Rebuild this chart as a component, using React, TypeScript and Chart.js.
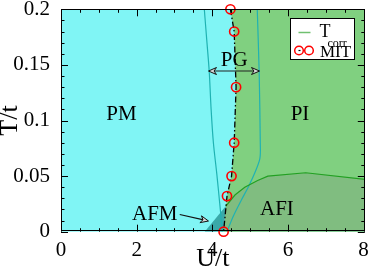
import React, { useEffect, useRef } from 'react';
import { Chart, registerables } from 'chart.js';

Chart.register(...registerables);

// ---- axes ----
const xTicks = [0, 2, 4, 6, 8];
const yTicks = [0, 0.05, 0.1, 0.15, 0.2];
const xMax = 8.034;
const yMax = 0.2;

// ---- data (U/t, T/t) ----
const mitU = [4.48, 4.58, 4.63, 4.58, 4.51, 4.39, 4.3];
const mitT = [0.2, 0.18, 0.13, 0.08, 0.05, 0.032, 0];
const tcorrU = [3.8, 4.36, 4.6, 4.86, 5.2, 5.47, 6.47, 8.05];
const tcorrT = [0, 0.023, 0.033, 0.04, 0.046, 0.05, 0.053, 0.047];
const pgLeftU = [3.79, 3.86, 3.92, 3.97, 4.03, 4.12, 4.19, 4.24, 4.26];
const pgLeftT = [0.2, 0.17, 0.144, 0.11, 0.08, 0.052, 0.028, 0.01, 0];
const pgRightU = [5.19, 5.24, 5.27, 5.26, 5.12, 4.95, 4.77, 4.55, 4.39];
const pgRightT = [0.2, 0.144, 0.08, 0.066, 0.0525, 0.04, 0.0285, 0.0135, 0];

// ---- annotations ----
const regionLabels = [
  { text: 'PM', u: 1.6, t: 0.1004 },
  { text: 'PI', u: 6.32, t: 0.1004 },
  { text: 'PG', u: 4.58, t: 0.1492 },
  { text: 'AFI', u: 5.71, t: 0.015 },
  { text: 'AFM', u: 2.48, t: 0.0105 },
];
const pgArrow = { u0: 3.9, u1: 5.25, t: 0.1445 };
const afmArrow = { u0: 3.14, t0: 0.0155, u1: 3.9, t1: 0.0096 };

const SERIF = '"Liberation Serif", "Times New Roman", serif';
const CYAN = '#80f5f5';
const GREEN = '#80d080';
const AFI_C = '#80bd80';
const AFM_C = '#3aa9a9';
const TEAL = '#1fb2b2';
const TCORR_C = '#22a022';

const pts = (us: number[], ts: number[]) => us.map((u, i) => ({ x: u, y: ts[i] }));

const n = mitU.length;
const edge = xMax + 0.2;
const piPoly = [...pts(mitU, mitT), { x: edge, y: 0 }, { x: edge, y: yMax + 0.01 }, { x: mitU[0], y: yMax + 0.01 }];
const afiPoly = [
  ...pts(tcorrU, tcorrT).slice(1),
  { x: edge, y: tcorrT[tcorrT.length - 1] },
  { x: edge, y: 0 },
  { x: mitU[n - 1], y: mitT[n - 1] },
];
const afmPoly = [
  { x: tcorrU[0], y: tcorrT[0] },
  { x: tcorrU[1], y: tcorrT[1] },
  { x: mitU[n - 1], y: mitT[n - 1] },
];

function poly(data: any[], color: string, order: number) {
  return {
    data,
    fill: 'shape',
    backgroundColor: color,
    borderColor: 'rgba(0,0,0,0)',
    borderWidth: 1,
    pointRadius: 0,
    tension: 0,
    order,
  };
}

function head(ctx: CanvasRenderingContext2D, x: number, y: number, ang: number, len: number, half: number) {
  const c = Math.cos(ang), s = Math.sin(ang);
  ctx.beginPath();
  ctx.moveTo(x, y);
  ctx.lineTo(x - len * c - half * s, y - len * s + half * c);
  ctx.lineTo(x - len * 0.7 * c, y - len * 0.7 * s);
  ctx.lineTo(x - len * c + half * s, y - len * s - half * c);
  ctx.closePath();
  ctx.fillStyle = '#d9d9d9';
  ctx.fill();
  ctx.lineWidth = 1;
  ctx.strokeStyle = '#111';
  ctx.stroke();
}

const decor = {
  id: 'decor',
  beforeDatasetsDraw(chart: any) {
    const { ctx, chartArea: a } = chart;
    ctx.save();
    ctx.fillStyle = CYAN;
    ctx.fillRect(a.left, a.top, a.right - a.left, a.bottom - a.top);
    ctx.restore();
  },
  afterDatasetsDraw(chart: any) {
    const { ctx, chartArea: a } = chart;
    const xs = chart.scales.x, ys = chart.scales.y;
    ctx.save();
    // frame
    ctx.strokeStyle = '#000';
    ctx.lineWidth = 1;
    ctx.strokeRect(Math.round(a.left) + 0.5, Math.round(a.top) + 0.5, Math.round(a.right - a.left) - 1, Math.round(a.bottom - a.top) - 1);
    // ticks
    ctx.beginPath();
    for (let k = 0; k <= 16; k++) {
      const v = k * 0.5;
      const px = Math.round(xs.getPixelForValue(v)) + 0.5;
      const L = k % 4 === 0 ? 7 : 3.5;
      ctx.moveTo(px, a.bottom);
      ctx.lineTo(px, a.bottom - L);
      ctx.moveTo(px, a.top);
      ctx.lineTo(px, a.top + L);
    }
    for (let k = 0; k <= 20; k++) {
      const v = k * 0.01;
      const py = Math.round(ys.getPixelForValue(v)) + 0.5;
      const L = k % 5 === 0 ? 7 : 3.5;
      ctx.moveTo(a.left, py);
      ctx.lineTo(a.left + L, py);
      ctx.moveTo(a.right, py);
      ctx.lineTo(a.right - L, py);
    }
    ctx.stroke();
    // labels
    ctx.fillStyle = '#000';
    ctx.font = `21px ${SERIF}`;
    ctx.textAlign = 'center';
    ctx.textBaseline = 'alphabetic';
    for (const l of regionLabels) {
      ctx.fillText(l.text, xs.getPixelForValue(l.u), ys.getPixelForValue(l.t));
    }
    // PG arrow
    const y0 = ys.getPixelForValue(pgArrow.t);
    const xa = xs.getPixelForValue(pgArrow.u0), xb = xs.getPixelForValue(pgArrow.u1);
    ctx.beginPath();
    ctx.moveTo(xa + 4, y0);
    ctx.lineTo(xb - 4, y0);
    ctx.lineWidth = 1.2;
    ctx.strokeStyle = '#222';
    ctx.stroke();
    head(ctx, xa, y0, Math.PI, 8, 3.5);
    head(ctx, xb, y0, 0, 8, 3.5);
    // AFM arrow
    const ax0 = xs.getPixelForValue(afmArrow.u0), ay0 = ys.getPixelForValue(afmArrow.t0);
    const ax1 = xs.getPixelForValue(afmArrow.u1), ay1 = ys.getPixelForValue(afmArrow.t1);
    const ang = Math.atan2(ay1 - ay0, ax1 - ax0);
    ctx.beginPath();
    ctx.moveTo(ax0, ay0);
    ctx.lineTo(ax1 - 5 * Math.cos(ang), ay1 - 5 * Math.sin(ang));
    ctx.lineWidth = 1.2;
    ctx.strokeStyle = '#111';
    ctx.stroke();
    head(ctx, ax1, ay1, ang, 8, 3.5);
    ctx.restore();
  },
  afterDraw(chart: any) {
    const { ctx, chartArea: a } = chart;
    ctx.save();
    const bx = Math.round(a.right - 75) + 0.5;
    const by = Math.round(a.top + 9) + 0.5;
    ctx.fillStyle = '#fff';
    ctx.fillRect(bx, by, 64, 41);
    ctx.strokeStyle = '#000';
    ctx.lineWidth = 1;
    ctx.strokeRect(bx, by, 64, 41);
    // Tcorr entry
    ctx.beginPath();
    ctx.moveTo(bx + 8, by + 14);
    ctx.lineTo(bx + 20, by + 14);
    ctx.strokeStyle = '#70c070';
    ctx.lineWidth = 1.5;
    ctx.stroke();
    ctx.fillStyle = '#000';
    ctx.textAlign = 'left';
    ctx.textBaseline = 'alphabetic';
    ctx.font = `18px ${SERIF}`;
    ctx.fillText('T', bx + 29, by + 18);
    ctx.font = `12px ${SERIF}`;
    ctx.fillText('corr', bx + 37, by + 28);
    // MIT entry
    ctx.strokeStyle = '#ff0000';
    ctx.lineWidth = 1.5;
    for (const cx of [bx + 8.5, bx + 18.5]) {
      ctx.beginPath();
      ctx.arc(cx, by + 32, 4.3, 0, Math.PI * 2);
      ctx.stroke();
    }
    ctx.beginPath();
    ctx.moveTo(bx + 8, by + 32);
    ctx.lineTo(bx + 10, by + 32);
    ctx.strokeStyle = '#000';
    ctx.lineWidth = 1.2;
    ctx.stroke();
    ctx.font = `17px ${SERIF}`;
    ctx.fillText('MIT', bx + 29.5, by + 38.5);
    ctx.restore();
  },
};

export default function App() {
  const ref = useRef<HTMLCanvasElement>(null);
  useEffect(() => {
    const canvas = ref.current!;
    const chart = new Chart(canvas, {
      type: 'line',
      data: {
        datasets: [
          {
            data: pts(mitU, mitT),
            borderColor: '#000',
            borderWidth: 1.3,
            borderDash: [6, 2.5, 1.5, 2.5],
            pointRadius: 4.6,
            pointBorderColor: '#ff0000',
            pointBackgroundColor: 'rgba(0,0,0,0)',
            pointBorderWidth: 1.6,
            fill: false,
            tension: 0,
            clip: false,
            order: 1,
          } as any,
          {
            data: pts(tcorrU, tcorrT).slice(1),
            borderColor: TCORR_C,
            borderWidth: 1.2,
            pointRadius: 0,
            fill: false,
            tension: 0,
            order: 2,
          },
          {
            data: pts(pgLeftU, pgLeftT),
            borderColor: TEAL,
            borderWidth: 1.2,
            pointRadius: 0,
            fill: false,
            tension: 0.3,
            order: 3,
          },
          {
            data: pts(pgRightU, pgRightT),
            borderColor: TEAL,
            borderWidth: 1.2,
            pointRadius: 0,
            fill: false,
            tension: 0.3,
            order: 3,
          },
          poly(afmPoly, AFM_C, 6) as any,
          poly(afiPoly, AFI_C, 7) as any,
          poly(piPoly, GREEN, 8) as any,
        ],
      },
      options: {
        animation: false,
        responsive: false,
        devicePixelRatio: 1,
        events: [],
        layout: { padding: { top: 9.3, right: 3, left: 0, bottom: 0 } },
        plugins: { legend: { display: false }, tooltip: { enabled: false } },
        scales: {
          x: {
            type: 'linear',
            min: 0,
            max: xMax,
            grid: { display: false },
            border: { display: false },
            ticks: {
              font: { family: SERIF, size: 21, lineHeight: 1 },
              color: '#000',
              padding: 0,
              maxRotation: 0,
              autoSkip: false,
              callback: (v: any) => String(v),
            },
            afterBuildTicks: (s: any) => {
              s.ticks = xTicks.map((v) => ({ value: v }));
            },
            afterFit: (s: any) => {
              s.height = 41.3;
              s.paddingLeft = 0;
              s.paddingRight = 0;
            },
            title: {
              display: true,
              text: 'U/t',
              color: '#000',
              font: { family: SERIF, size: 26, lineHeight: 1 },
              padding: { top: 0, bottom: 1 },
            },
          },
          y: {
            type: 'linear',
            min: 0,
            max: yMax,
            grid: { display: false },
            border: { display: false },
            ticks: {
              font: { family: SERIF, size: 21, lineHeight: 1 },
              color: '#000',
              padding: 3,
              autoSkip: false,
              callback: (v: any) => String(v),
            },
            afterBuildTicks: (s: any) => {
              s.ticks = yTicks.map((v) => ({ value: v }));
            },
            afterFit: (s: any) => {
              s.width = 61;
              s.paddingTop = 0;
              s.paddingBottom = 0;
            },
            title: {
              display: true,
              text: 'T/t',
              color: '#000',
              font: { family: SERIF, size: 26, lineHeight: 0.8 },
              padding: 0,
            },
          },
        },
      } as any,
      plugins: [decor],
    });
    return () => chart.destroy();
  }, []);
  return (
    <div style={{ position: 'absolute', left: 0, top: 0, width: 371, height: 273 }}>
      <canvas ref={ref} width={371} height={273} style={{ display: 'block', width: 371, height: 273 }} />
    </div>
  );
}
